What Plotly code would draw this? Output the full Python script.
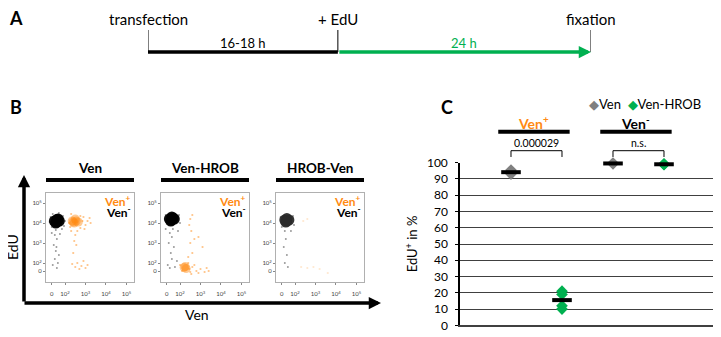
import numpy as np
import plotly.graph_objects as go

# ---------------- DATA ----------------
# Panel A: timeline (hours)
event_labels = ["transfection", "+ EdU", "fixation"]
event_times = [0, 18, 42]
interval_labels = ["16-18 h", "24 h"]

# Panel B: flow cytometry panels (biexponential-like coordinates: 0->0.35/0.6, 10^2->1, 10^3->2 ...)
flow_titles = ["Ven", "Ven-HROB", "HROB-Ven"]
flow_x_tickvals = [0.35, 1, 2, 3, 4]
flow_y_tickvals = [0.6, 1, 2, 3, 4]
flow_tick_text = ["0", "10<sup>2</sup>", "10<sup>3</sup>", "10<sup>4</sup>", "10<sup>5</sup>"]

# Ven panel
ven_neg_core = [(0.48, 3.1), (0.6, 3.05), (0.72, 3.1), (0.6, 3.17), (0.55, 3.0), (0.66, 3.2)]
ven_neg_sparse = [(0.3, 3.3), (0.35, 2.8), (0.9, 3.35), (0.95, 2.85), (0.25, 3.05), (0.85, 2.7),
                  (0.55, 2.65), (0.4, 3.45), (0.7, 3.5), (1.0, 3.1), (0.5, 2.4), (0.6, 2.2),
                  (0.45, 1.9), (0.55, 1.6), (0.5, 1.2), (0.65, 1.0), (0.4, 0.9), (0.6, 0.75),
                  (0.7, 1.4), (0.35, 2.5), (0.75, 2.45), (0.58, 1.8), (0.3, 2.95), (0.9, 3.0)]
ven_pos_core = [(1.35, 3.1), (1.45, 3.0), (1.55, 3.1), (1.65, 3.05), (1.5, 3.2), (1.4, 3.05)]
ven_pos_sparse = [(1.9, 3.3), (2.0, 2.9), (2.1, 3.1), (2.2, 3.25), (1.25, 2.8), (1.3, 3.45),
                  (1.75, 2.75), (1.6, 2.6), (1.5, 2.4), (1.45, 2.1), (1.55, 1.9), (1.4, 1.5),
                  (1.6, 1.0), (1.5, 0.8), (1.8, 0.85), (2.0, 0.75), (1.7, 0.7), (2.1, 0.9),
                  (1.35, 0.95), (1.9, 1.1), (2.25, 3.0), (1.2, 3.0), (1.85, 3.1), (1.75, 3.35),
                  (1.95, 2.7), (1.3, 2.6)]

# Ven-HROB panel
venhrob_neg_core = [(0.48, 3.2), (0.6, 3.15), (0.72, 3.2), (0.6, 3.3), (0.55, 3.1), (0.66, 3.25)]
venhrob_neg_sparse = [(0.5, 2.5), (0.6, 2.3), (0.45, 2.0), (0.7, 1.8), (0.55, 1.5), (0.6, 1.2),
                      (0.4, 0.9), (0.75, 0.8), (0.85, 1.1), (0.5, 0.75), (0.3, 2.7), (0.9, 2.6),
                      (0.3, 3.4), (0.95, 3.4), (0.35, 2.95), (1.0, 3.0), (0.65, 2.7)]
venhrob_pos_core = [(1.2, 0.78), (1.3, 0.72), (1.25, 0.82)]
venhrob_pos_sparse = [(1.5, 3.2), (1.45, 2.9), (1.6, 3.4), (1.55, 2.6), (1.7, 2.2), (1.5, 2.0),
                      (1.9, 2.3), (2.1, 1.8), (1.6, 1.5), (1.4, 1.3), (1.6, 0.8), (1.8, 0.6),
                      (2.0, 0.7), (2.2, 0.55), (2.4, 0.6), (1.5, 0.55), (1.7, 0.9), (1.4, 1.0),
                      (1.9, 0.5), (2.3, 0.75), (1.55, 0.45), (1.0, 0.9), (1.45, 0.7), (1.1, 0.6)]

# HROB-Ven panel
hrobven_neg_core = [(0.5, 3.15), (0.6, 3.1), (0.7, 3.15), (0.6, 3.22), (0.55, 3.05)]
hrobven_neg_sparse = [(0.3, 3.3), (0.9, 3.35), (0.95, 2.9), (0.5, 2.6), (0.55, 2.2), (0.45, 1.8),
                      (0.6, 1.4), (0.5, 1.0), (0.65, 0.8), (0.35, 2.8), (0.8, 2.6)]
hrobven_pos_sparse = [(1.4, 3.1), (1.6, 3.2), (1.3, 0.8), (1.6, 0.75), (1.9, 0.8), (2.2, 0.7),
                      (2.6, 0.5)]

# Panel C: EdU+ in %
constructs = ["Ven", "Ven-HROB"]
gates = ["Ven<sup>+</sup>", "Ven<sup>-</sup>"]
edu_ven_pos = {"Ven": [93.0, 94.0, 95.5], "Ven-HROB": [21.0, 19.0, 12.0, 10.0]}
edu_ven_neg = {"Ven": [99.3, 99.8, 99.5], "Ven-HROB": [98.8, 99.3, 99.0]}
p_labels = ["0.000029", "n.s."]
c_yticks = list(range(0, 101, 10))

# ---------------- STYLE / LAYOUT HELPERS ----------------
W, H = 721, 337
OFF = 8  # the page body adds an 8 px margin around the figure
FONT = "Lato"
ORANGE = "#FF8A12"
GREEN = "#00B050"
GREY = "#808080"


def px(x):
    return (x - OFF) / W


def py(y):
    return 1 - (y - OFF) / H


fig = go.Figure()
ann = []
shapes = []


def text_ann(x, y, text, size, color="black", xanchor="center", yanchor="middle", **kw):
    d = dict(x=px(x), y=py(y), xref="paper", yref="paper", text=text, showarrow=False,
             xanchor=xanchor, yanchor=yanchor, font=dict(size=size, color=color, family=FONT))
    d.update(kw)
    ann.append(d)


# ---------------- Panel A ----------------
fig.add_trace(go.Scatter(x=event_times[:2], y=[52, 52], mode="lines",
                         line=dict(color="black", width=3.5), xaxis="x", yaxis="y",
                         showlegend=False, hoverinfo="skip"))
for t in event_times:
    fig.add_trace(go.Scatter(x=[t, t], y=[30, 52], mode="lines",
                             line=dict(color="black", width=1), xaxis="x", yaxis="y",
                             showlegend=False, hoverinfo="skip"))
ann.append(dict(x=event_times[2], y=52, ax=event_times[1], ay=52, xref="x", yref="y",
                axref="x", ayref="y", text="", showarrow=True, arrowhead=2, arrowsize=0.7,
                arrowwidth=3.5, arrowcolor=GREEN, standoff=0))
for lab, t in zip(event_labels, event_times):
    ann.append(dict(x=t, y=19, xref="x", yref="y", text=lab, showarrow=False,
                    xanchor="center", yanchor="middle",
                    font=dict(size=15, color="black", family=FONT)))
for i, lab in enumerate(interval_labels):
    mid = (event_times[i] + event_times[i + 1]) / 2
    ann.append(dict(x=mid, y=43, xref="x", yref="y", text=lab, showarrow=False,
                    xanchor="center", yanchor="middle",
                    font=dict(size=13, color="black" if i == 0 else GREEN, family=FONT)))

# ---------------- Panel B ----------------
panels = [
    (ven_neg_core, ven_neg_sparse, ven_pos_core, ven_pos_sparse, "black"),
    (venhrob_neg_core, venhrob_neg_sparse, venhrob_pos_core, venhrob_pos_sparse, "black"),
    (hrobven_neg_core, hrobven_neg_sparse, [], hrobven_pos_sparse, "#2a2a2a"),
]
flow_left = [46, 161, 276]
flow_w = 88
for k, (ncore, nsp, pcore, psp, ncol) in enumerate(panels):
    ax = str(k + 3)
    faded = (k == 2)
    if psp:
        fig.add_trace(go.Scatter(x=[p[0] for p in psp], y=[p[1] for p in psp], mode="markers",
                                 marker=dict(size=2.2, color=ORANGE, opacity=0.2 if faded else 0.5),
                                 xaxis="x" + ax, yaxis="y" + ax, showlegend=False, hoverinfo="skip"))
    if pcore:
        fig.add_trace(go.Scatter(x=[p[0] for p in pcore], y=[p[1] for p in pcore], mode="markers",
                                 marker=dict(size=9, color=ORANGE, opacity=0.45),
                                 xaxis="x" + ax, yaxis="y" + ax, showlegend=False, hoverinfo="skip"))
    fig.add_trace(go.Scatter(x=[p[0] for p in nsp], y=[p[1] for p in nsp], mode="markers",
                             marker=dict(size=2, color="black", opacity=0.4),
                             xaxis="x" + ax, yaxis="y" + ax, showlegend=False, hoverinfo="skip"))
    fig.add_trace(go.Scatter(x=[p[0] for p in ncore], y=[p[1] for p in ncore], mode="markers",
                             marker=dict(size=11, color=ncol, opacity=0.95),
                             xaxis="x" + ax, yaxis="y" + ax, showlegend=False, hoverinfo="skip"))
    L = flow_left[k]
    # titles & bars
    text_ann(L + flow_w / 2, 168, "<b>%s</b>" % flow_titles[k], 13.5)
    shapes.append(dict(type="line", xref="paper", yref="paper", x0=px(L), x1=px(L + flow_w),
                       y0=py(180), y1=py(180), line=dict(color="black", width=4)))
    text_ann(L + flow_w - 1, 201, "<b>Ven<sup>+</sup></b>", 12, ORANGE, xanchor="right")
    text_ann(L + flow_w - 1, 212, "<b>Ven<sup>-</sup></b>", 12, "black", xanchor="right")

flow_axis_common = dict(showgrid=False, zeroline=False, showline=True, mirror=True,
                        linecolor="#b0b0b0", linewidth=1, ticks="outside", ticklen=2,
                        tickcolor="#888", tickfont=dict(size=6, color="#444", family=FONT),
                        automargin=False)
for k in range(3):
    L = flow_left[k]
    fig.update_layout(**{
        "xaxis%d" % (k + 3): dict(domain=[px(L), px(L + flow_w)], range=[0.07, 4.37],
                                  tickvals=flow_x_tickvals, ticktext=flow_tick_text,
                                  anchor="y%d" % (k + 3), ticklabelstandoff=4,
                                  **flow_axis_common),
        "yaxis%d" % (k + 3): dict(domain=[py(282), py(193)], range=[0.05, 4.5],
                                  tickvals=flow_y_tickvals, ticktext=flow_tick_text,
                                  anchor="x%d" % (k + 3), **flow_axis_common),
    })

# big axis arrows for B
ann.append(dict(x=px(24), y=py(175), xref="paper", yref="paper", ax=0, ay=128, text="",
                showarrow=True, arrowhead=2, arrowsize=0.7, arrowwidth=3.5, arrowcolor="black",
                standoff=0))
ann.append(dict(x=px(381), y=py(303), xref="paper", yref="paper", ax=-358, ay=0, text="",
                showarrow=True, arrowhead=2, arrowsize=0.7, arrowwidth=3.5, arrowcolor="black",
                standoff=0))
text_ann(13, 247, "EdU", 14, textangle=-90)
text_ann(197, 314, "Ven", 14)

# ---------------- Panel C ----------------
c_series = [(edu_ven_pos, 0), (edu_ven_neg, 1)]
for data, g in c_series:
    for j, c in enumerate(constructs):
        xpos = 1 + 2 * g + j
        vals = data[c]
        fig.add_trace(go.Scatter(x=[xpos] * len(vals), y=vals, mode="markers",
                                 marker=dict(symbol="diamond", size=9,
                                             color=GREY if c == "Ven" else GREEN),
                                 xaxis="x2", yaxis="y2", showlegend=False, cliponaxis=False,
                                 hoverinfo="skip"))
        fig.add_trace(go.Scatter(x=[xpos], y=[float(np.mean(vals))], mode="markers",
                                 marker=dict(symbol="line-ew", size=14,
                                             line=dict(color="black", width=4)),
                                 xaxis="x2", yaxis="y2", showlegend=False, cliponaxis=False,
                                 hoverinfo="skip"))

C_X0, C_X1 = 460, 715
C_Y0, C_Y1 = 325.3, 162.7
fig.update_layout(
    xaxis2=dict(domain=[px(C_X0), px(C_X1)], range=[0, 5], showgrid=False, zeroline=False,
                showticklabels=False, showline=True, linecolor="#404040", linewidth=1.5,
                anchor="y2", automargin=False),
    yaxis2=dict(domain=[py(C_Y0), py(C_Y1)], range=[0, 100], tickvals=c_yticks,
                showgrid=True, gridcolor="#404040", gridwidth=1.2, zeroline=False,
                showline=True, linecolor="black", linewidth=1.5, ticks="outside", ticklen=3,
                tickcolor="black", tickfont=dict(size=12, color="black", family=FONT),
                ticklabelstandoff=5, automargin=False,
                title=dict(text="EdU<sup>+</sup> in %", font=dict(size=13, color="black",
                                                                  family=FONT), standoff=6),
                anchor="x2"),
)


def cx(v):
    return C_X0 + (C_X1 - C_X0) * v / 5


# group headers
for g, lab in enumerate(gates):
    xa, xb = cx(0.75 + 2 * g), cx(2.15 + 2 * g)
    shapes.append(dict(type="line", xref="paper", yref="paper", x0=px(xa), x1=px(xb),
                       y0=py(131.7), y1=py(131.7), line=dict(color="black", width=4)))
    text_ann((xa + xb) / 2, 122, "<b>%s</b>" % lab, 14, ORANGE if g == 0 else "black")
    # significance brackets
    b0, b1 = cx(1 + 2 * g), cx(2 + 2 * g)
    shapes.append(dict(type="path", xref="paper", yref="paper",
                       path="M %f,%f L %f,%f L %f,%f L %f,%f" % (
                           px(b0), py(157), px(b0), py(150.7), px(b1), py(150.7), px(b1), py(157)),
                       line=dict(color="black", width=1)))
    text_ann((b0 + b1) / 2, 151, p_labels[g], 10.5, yanchor="bottom")

# legend (as text)
text_ann(587, 104, "<span style='color:%s'>◆</span>Ven  <span style='color:%s'>◆</span>Ven-HROB"
         % (GREY, GREEN), 13, xanchor="left")

# panel letters
for lab, x, y in [("A", 16, 18), ("B", 16, 107), ("C", 447, 107)]:
    text_ann(x, y, "<b>%s</b>" % lab, 18)

fig.update_layout(
    width=W, height=H, margin=dict(l=0, r=0, t=0, b=0, pad=0, autoexpand=False),
    paper_bgcolor="white", plot_bgcolor="white",
    xaxis=dict(domain=[px(148), px(591)], range=[0, 42], visible=False, anchor="y",
               automargin=False),
    yaxis=dict(domain=[py(70), py(OFF)], range=[70, OFF], visible=False, anchor="x",
               automargin=False),
    annotations=ann, shapes=shapes, showlegend=False,
    font=dict(family=FONT),
)

fig.write_html("out.html")
